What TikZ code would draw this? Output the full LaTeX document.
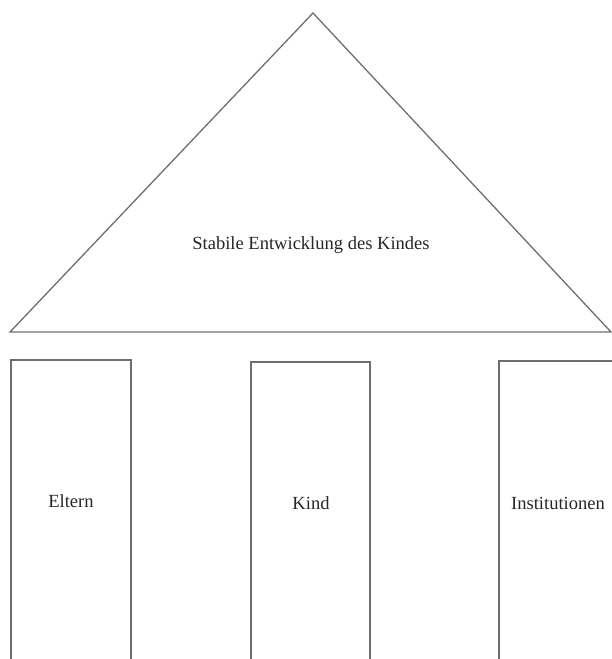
\documentclass[tikz,border=0pt]{standalone}
\usepackage{fontspec}
\setmainfont{Liberation Serif}
\usepackage{tikz}
\definecolor{wallgray}{HTML}{6E6E6E}

\begin{document}
\begin{tikzpicture}[
  x=1bp,y=-1bp,
  wall/.style={draw=wallgray,line width=1.3bp,line join=miter},
  caption/.style={font=\fontsize{18.6}{21}\selectfont,text=black!85,inner sep=1pt}
]
\clip (0,0) rectangle (612,659);
% roof
\coordinate (roofL) at (10,332);
\coordinate (roofT) at (313,13);
\coordinate (roofR) at (611,332);
\draw[wall] (roofL) -- (roofT) -- (roofR) -- cycle;
\node[caption] (roof) at (311,245) {Stabile Entwicklung des Kindes};
% pillars
\draw[wall] (11,680) |- (131,360) -- (131,680);
\draw[wall] (251,680) |- (370,362) -- (370,680);
\draw[wall] (499,680) |- (630,361);
\node[caption] (eltern) at (71,501) {Eltern};
\node[caption] (kind) at (311,503) {Kind};
\node[caption] (inst) at (558,503) {Institutionen};
\end{tikzpicture}
\end{document}
